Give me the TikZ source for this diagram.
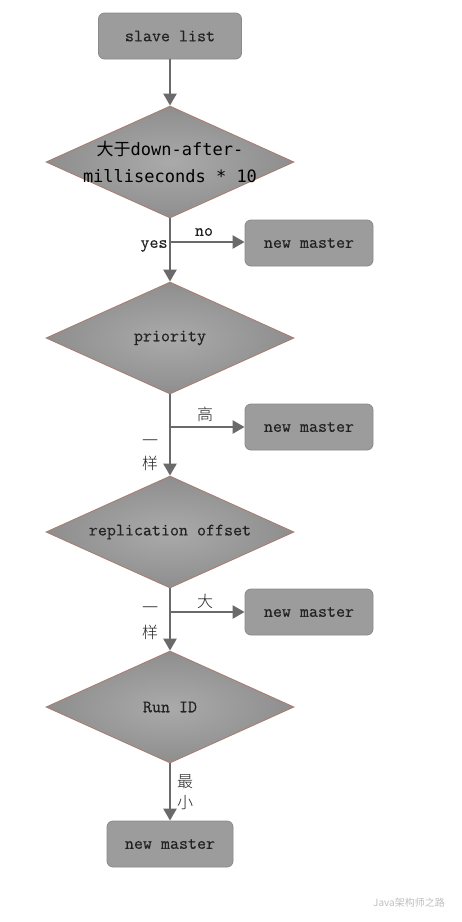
\documentclass[tikz,border=0pt]{standalone}
\usepackage{fontspec}
\newfontfamily\monof[FakeBold=0.25]{Latin Modern Mono}
\newfontfamily\cjk{Noto Sans CJK SC}
\newfontfamily\cjklight{Noto Sans CJK SC Light}
\newfontfamily\dvmono{DejaVu Sans Mono}
\usetikzlibrary{shapes.geometric,arrows.meta}
\definecolor{boxfill}{HTML}{9C9C9C}
\definecolor{boxline}{HTML}{8A8A8A}
\definecolor{dmdline}{HTML}{A87C6E}
\definecolor{dmdin}{HTML}{AAAAAA}
\definecolor{dmdout}{HTML}{8E8E8E}
\definecolor{arrowc}{HTML}{6A6A6A}
\definecolor{txt}{HTML}{222222}
\tikzset{
  procbox/.style={draw=boxline, line width=0.8pt, fill=boxfill, rounded corners=6pt,
    minimum height=46pt, inner sep=0pt, font=\fontsize{17.5}{19}\monof, text=txt},
  decide/.style={diamond, draw=dmdline, line width=0.8pt, inner color=dmdin, outer color=dmdout,
    minimum width=248pt, minimum height=112pt, inner sep=0pt},
  flow/.style={draw=arrowc, line width=2.4pt, -{Triangle[width=13pt,length=12pt]}},
  lbl/.style={font=\fontsize{17.5}{19}\monof, text=txt, inner sep=0pt},
  clbl/.style={font=\fontsize{16}{18}\cjklight, text=txt, inner sep=0pt}
}
\begin{document}
\begin{tikzpicture}[x=1pt,y=-1pt]
\useasboundingbox (0,0) rectangle (462,922);
\fill[white] (0,0) rectangle (462,922);

\node[procbox, minimum width=143pt] (start) at (170,36) {slave list};

\node[decide, label={[text=black, align=center, font=\fontsize{17}{27}\dvmono]center:{{\cjk 大于}down-after-\\milliseconds * 10}}] (d1) at (170,162) {};
\node[decide, label={[lbl]center:priority}] (d2) at (170,338) {};
\node[decide, label={[lbl]center:replication offset}] (d3) at (170,532) {};
\node[decide, label={[lbl]center:Run ID}] (d4) at (170,707) {};

\node[procbox, minimum width=128pt] (n1) at (309,243) {new master};
\node[procbox, minimum width=128pt] (n2) at (309,427) {new master};
\node[procbox, minimum width=128pt] (n3) at (309,612) {new master};
\node[procbox, minimum width=126pt] (n4) at (170,844) {new master};

\coordinate (b1) at (170,242);
\coordinate (b2) at (170,427);
\coordinate (b3) at (170,612);

\draw[flow] (start.south) -- (d1.north);
\draw[flow] (d1.south) -- (d2.north);
\draw[flow] (b1) -- (b1 -| n1.west);
\draw[flow] (d2.south) -- (d3.north);
\draw[flow] (b2) -- (b2 -| n2.west);
\draw[flow] (d3.south) -- (d4.north);
\draw[flow] (b3) -- (b3 -| n3.west);
\draw[flow] (d4.south) -- (n4.north);

\node[lbl] (lno) at (204,232) {no};
\node[lbl] (lyes) at (154,246) {yes};
\node[clbl] (lgao) at (205,414) {高};
\node[clbl] (ly1) at (150,443) {一};
\node[clbl] (ly2) at (150,463) {样};
\node[clbl] (lda) at (205,601) {大};
\node[clbl] (ly3) at (150,610) {一};
\node[clbl] (ly4) at (150,632) {样};
\node[clbl] (lzui) at (185,782) {最};
\node[clbl] (lxiao) at (185,803) {小};

\node[font=\fontsize{10}{12}\cjk, text=black!25, inner sep=0pt, anchor=west] (wm) at (373,903) {Java架构师之路};
\end{tikzpicture}
\end{document}
